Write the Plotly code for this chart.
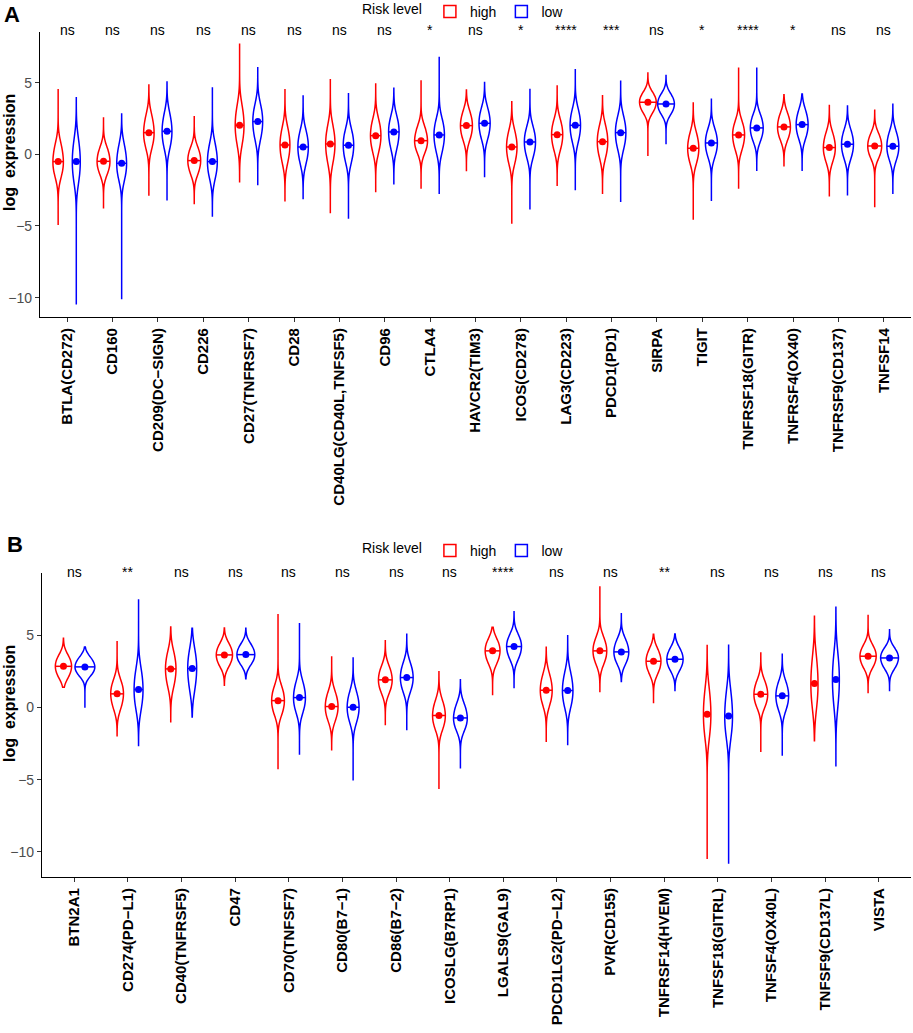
import numpy as np
import plotly.graph_objects as go

# ---------------- data ----------------
catsA = ["BTLA(CD272)", "CD160", "CD209(DC−SIGN)", "CD226", "CD27(TNFRSF7)", "CD28",
         "CD40LG(CD40L,TNFSF5)", "CD96", "CTLA4", "HAVCR2(TIM3)", "ICOS(CD278)", "LAG3(CD223)",
         "PDCD1(PD1)", "SIRPA", "TIGIT", "TNFRSF18(GITR)", "TNFRSF4(OX40)", "TNFRSF9(CD137)", "TNFSF14"]
sigA = ["ns", "ns", "ns", "ns", "ns", "ns", "ns", "ns", "*", "ns", "*", "****", "***", "ns", "*",
        "****", "*", "ns", "ns"]

highA_min = [-4.93, -3.79, -2.84, -3.49, -1.91, -3.30, -4.12, -2.65, -2.40, -1.19, -4.84, -2.21, -2.77, -0.12, -4.56, -2.40, -0.86, -2.95, -3.70]
highA_max = [4.56, 2.58, 4.84, 2.67, 7.72, 4.56, 5.26, 4.95, 5.16, 4.49, 3.67, 4.81, 4.09, 5.67, 3.58, 6.05, 4.16, 3.40, 3.07]
highA_med = [-0.51, -0.49, 1.51, -0.44, 2.02, 0.65, 0.72, 1.30, 0.95, 2.00, 0.51, 1.37, 0.88, 3.63, 0.42, 1.35, 1.91, 0.47, 0.58]
highA_q1 = [-1.2, -1.1, 0.8, -1.1, 1.1, -0.2, -0.2, 0.5, 0.4, 1.3, -0.3, 0.6, 0.1, 3.1, -0.3, 0.6, 1.3, -0.2, 0.0]
highA_q3 = [0.4, 0.2, 2.4, 0.2, 3.0, 1.5, 1.6, 2.1, 1.7, 2.7, 1.3, 2.1, 1.7, 4.1, 1.2, 2.0, 2.6, 1.2, 1.2]

lowA_min = [-10.47, -10.12, -3.23, -4.30, -2.16, -3.09, -4.49, -2.05, -2.77, -1.60, -3.86, -2.51, -3.33, 0.70, -3.26, -1.16, -1.12, -2.88, -2.77]
lowA_max = [3.95, 2.81, 5.05, 4.67, 6.09, 4.07, 4.28, 4.60, 6.81, 5.00, 4.58, 5.95, 5.14, 5.49, 3.84, 6.05, 4.21, 3.37, 3.49]
lowA_med = [-0.51, -0.63, 1.60, -0.51, 2.28, 0.51, 0.63, 1.56, 1.35, 2.16, 0.86, 2.02, 1.51, 3.51, 0.79, 1.84, 2.07, 0.70, 0.56]
lowA_q1 = [-1.5, -1.4, 0.8, -1.3, 1.4, -0.3, -0.2, 0.7, 0.5, 1.4, 0.1, 1.2, 0.7, 3.0, 0.1, 1.2, 1.4, 0.0, -0.1]
lowA_q3 = [0.6, 0.3, 2.5, 0.4, 3.1, 1.3, 1.4, 2.3, 2.1, 2.9, 1.6, 2.8, 2.3, 4.0, 1.5, 2.5, 2.8, 1.4, 1.3]

catsB = ["BTN2A1", "CD274(PD−L1)", "CD40(TNFRSF5)", "CD47", "CD70(TNFSF7)", "CD80(B7−1)", "CD86(B7−2)",
         "ICOSLG(B7RP1)", "LGALS9(GAL9)", "PDCD1LG2(PD−L2)", "PVR(CD155)", "TNFRSF14(HVEM)",
         "TNFSF18(GITRL)", "TNFSF4(OX40L)", "TNFSF9(CD137L)", "VISTA"]
sigB = ["ns", "**", "ns", "ns", "ns", "ns", "ns", "ns", "****", "ns", "ns", "**", "ns", "ns", "ns", "ns"]

highB_min = [1.41, -1.96, -1.04, 1.55, -4.27, -2.93, -1.22, -5.64, 0.85, -2.33, 1.11, 0.30, -10.5, -3.09, -2.31, 1.04]
highB_max = [4.80, 4.62, 5.59, 5.52, 6.49, 3.56, 4.64, 2.54, 5.57, 4.18, 8.41, 5.08, 4.30, 3.79, 6.33, 6.44]
highB_med = [2.86, 0.95, 2.68, 3.65, 0.48, 0.07, 1.92, -0.55, 3.93, 1.20, 3.93, 3.21, -0.46, 0.92, 1.66, 3.56]
highB_q1 = [2.3, 0.2, 1.8, 3.1, -0.2, -0.6, 1.3, -1.2, 3.3, 0.5, 3.3, 2.6, -1.6, 0.3, 0.5, 3.0]
highB_q3 = [3.4, 1.6, 3.5, 4.2, 1.2, 0.8, 2.6, 0.2, 4.5, 2.0, 4.6, 3.8, 0.8, 1.6, 3.0, 4.1]

lowB_min = [-0.02, -2.63, -0.65, 1.99, -3.28, -5.06, -1.57, -4.23, 1.34, -2.61, 1.80, 1.18, -10.83, -3.35, -4.09, 1.18]
lowB_max = [4.20, 7.51, 5.50, 5.50, 5.87, 3.49, 5.08, 1.92, 6.65, 5.03, 6.51, 5.10, 4.32, 3.70, 6.95, 5.40]
lowB_med = [2.82, 1.25, 2.70, 3.67, 0.69, 0.02, 2.08, -0.72, 4.23, 1.18, 3.86, 3.35, -0.58, 0.81, 1.94, 3.44]
lowB_q1 = [2.4, 0.3, 1.6, 3.2, 0.0, -0.7, 1.4, -1.3, 3.6, 0.4, 3.3, 2.8, -1.6, 0.1, 0.6, 2.9]
lowB_q3 = [3.3, 2.3, 3.6, 4.2, 1.5, 0.8, 2.8, 0.0, 4.8, 2.1, 4.5, 3.9, 0.7, 1.5, 3.2, 3.9]

y_ticks = [-10, -5, 0, 5]
# ----------------------------------------------------------------

RED = "#FF0000"
BLUE = "#0000FF"
FONT = "Liberation Sans, Arial, Helvetica, sans-serif"
VGAP = 0.08
DODGE = 0.2
BDPOS = DODGE * (1 - VGAP)   # half width of the widest violin (plotly overlay logic)
BW_K = 0.45


def kde(x, samples, h):
    s = np.asarray(samples)
    return np.sum(np.exp(-0.5 * ((x - s) / h) ** 2)) / (len(s) * h * np.sqrt(2 * np.pi))


fig = go.Figure()

panels = [
    dict(cats=catsA, sig=sigA, xa="x", ya="y", leg="legend", grp="A",
         series=[("high", RED, -DODGE, highA_min, highA_max, highA_med, highA_q1, highA_q3),
                 ("low", BLUE, DODGE, lowA_min, lowA_max, lowA_med, lowA_q1, lowA_q3)]),
    dict(cats=catsB, sig=sigB, xa="x2", ya="y2", leg="legend2", grp="B",
         series=[("high", RED, -DODGE, highB_min, highB_max, highB_med, highB_q1, highB_q3),
                 ("low", BLUE, DODGE, lowB_min, lowB_max, lowB_med, lowB_q1, lowB_q3)]),
]

for p in panels:
    n = len(p["cats"])
    gmax = 0.0
    for (_, _, _, mn, mx, md, q1, q3) in p["series"]:
        for i in range(n):
            s = [q1[i], md[i], q3[i]]
            h = BW_K * (q3[i] - q1[i])
            grid = np.linspace(mn[i], mx[i], 400)
            gmax = max(gmax, max(kde(g, s, h) for g in grid))
    for (name, col, off, mn, mx, md, q1, q3) in p["series"]:
        xs, half = [], []
        for i in range(n):
            pos = i + 1 + off
            s = [q1[i], md[i], q3[i]]
            h = BW_K * (q3[i] - q1[i])
            fig.add_trace(go.Violin(
                x=[pos] * len(s), y=s, xaxis=p["xa"], yaxis=p["ya"],
                name=name, legendgroup=p["grp"] + name, legend=p["leg"],
                showlegend=(i == 0), line=dict(color=col, width=1.5), fillcolor="white",
                points=False, spanmode="manual", span=[mn[i], mx[i]], bandwidth=h,
                scalegroup=p["grp"], scalemode="width", hoverinfo="skip",
                box_visible=False, meanline_visible=False, orientation="v"))
            xs.append(pos)
            half.append(BDPOS * kde(md[i], s, h) / gmax)
        fig.add_trace(go.Scatter(
            x=xs, y=md, xaxis=p["xa"], yaxis=p["ya"], mode="markers", showlegend=False,
            marker=dict(color=col, size=7),
            error_x=dict(type="data", array=half, symmetric=True, color=col, thickness=1.5, width=0),
            hoverinfo="skip"))

W, H = 913, 1033
annotations = []
for p, ypx in [(panels[0], 30), (panels[1], 572)]:
    for i, t in enumerate(p["sig"]):
        annotations.append(dict(x=i + 1, y=1 - ypx / H, xref=p["xa"], yref="paper", text=t, showarrow=False,
                                yanchor="middle", xanchor="center",
                                font=dict(size=14, color="black", family=FONT)))

annotations += [
    dict(x=9 / W, y=1 - 153 / H, xref="paper", yref="paper", text="log\u00a0\u00a0expression", textangle=-90,
         showarrow=False, xanchor="center", yanchor="middle",
         font=dict(size=16, color="black", family=FONT, weight="bold")),
    dict(x=9 / W, y=1 - 704 / H, xref="paper", yref="paper", text="log\u00a0\u00a0expression", textangle=-90,
         showarrow=False, xanchor="center", yanchor="middle",
         font=dict(size=16, color="black", family=FONT, weight="bold")),
    dict(x=12 / W, y=1 - 14 / H, xref="paper", yref="paper", text="A", showarrow=False,
         xanchor="center", yanchor="middle", font=dict(size=22, color="black", family=FONT, weight="bold")),
    dict(x=15 / W, y=1 - 544 / H, xref="paper", yref="paper", text="B", showarrow=False,
         xanchor="center", yanchor="middle", font=dict(size=22, color="black", family=FONT, weight="bold")),
]

xcommon = dict(showline=True, linecolor="black", linewidth=1.2, ticks="outside", ticklen=4,
               tickcolor="#333333", tickangle=-90, showgrid=False, zeroline=False, automargin=False,
               tickfont=dict(size=15, color="black", family=FONT, weight="bold"))
ycommon = dict(showline=True, linecolor="black", linewidth=1.2, ticks="outside", ticklen=4,
               tickcolor="#333333", showgrid=False, zeroline=False, automargin=False,
               tickvals=y_ticks, tickfont=dict(size=14, color="#4D4D4D", family=FONT))

legcommon = dict(orientation="h", xanchor="left", yanchor="middle", bgcolor="rgba(0,0,0,0)",
                 font=dict(size=14, color="black", family=FONT),
                 title=dict(text="Risk level", side="left", font=dict(size=14, color="black", family=FONT)),
                 itemwidth=30, tracegroupgap=0)

fig.update_layout(
    width=W, height=H, margin=dict(l=0, r=0, t=0, b=0, autoexpand=False),
    paper_bgcolor="white", plot_bgcolor="white",
    violinmode="overlay", violingap=VGAP, violingroupgap=0,
    xaxis=dict(domain=[40 / W, 911 / W], anchor="y", range=[0.4, len(catsA) + 0.6],
               tickvals=list(range(1, len(catsA) + 1)), ticktext=catsA, **xcommon),
    yaxis=dict(domain=[1 - 317 / H, 1 - 32 / H], anchor="x", range=[-11.35, 8.53], **ycommon),
    xaxis2=dict(domain=[42 / W, 911 / W], anchor="y2", range=[0.4, len(catsB) + 0.6],
                tickvals=list(range(1, len(catsB) + 1)), ticktext=catsB, **xcommon),
    yaxis2=dict(domain=[1 - 877 / H, 1 - 573 / H], anchor="x2", range=[-11.75, 9.33], **ycommon),
    legend=dict(x=360 / W, y=1 - 12 / H, **legcommon),
    legend2=dict(x=360 / W, y=1 - 551 / H, **legcommon),
    annotations=annotations,
    showlegend=True,
)

fig.write_html("out.html", config={"displayModeBar": False},
               post_script="document.body.style.margin='0';")
